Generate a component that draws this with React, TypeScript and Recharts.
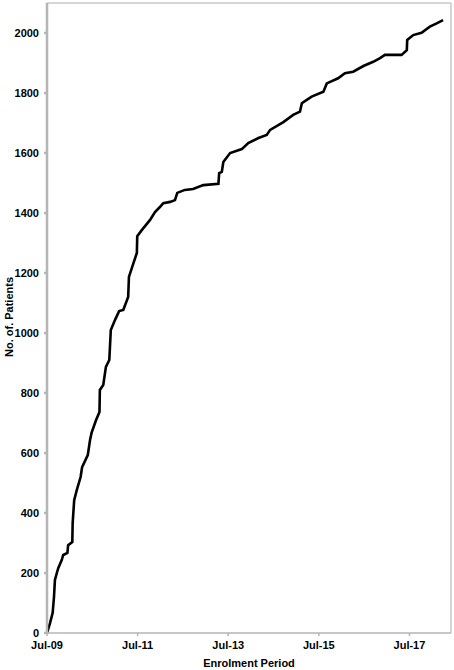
import { LineChart, Line, XAxis, YAxis, ReferenceLine } from 'recharts';

// months since Jul-2009
const months = [
  0, 0.8, 1.5, 1.85, 2.1, 2.6, 3.0, 3.9, 4.3, 5.4, 5.6, 6.7, 6.8, 7.2, 7.9, 8.9, 9.3, 10.8,
  11.4, 11.8, 13.0, 13.9, 14.0, 14.9, 15.6, 16.5, 16.9, 18.0, 19.1, 20.2, 21.5, 21.7, 22.9,
  23.8, 23.9, 25.1, 27.3, 28.6, 29.9, 30.8, 32.6, 33.9, 34.5, 36.5, 38.7, 41.4, 45.4, 45.6,
  46.3, 46.7, 48.5, 51.6, 53.3, 56.0, 58.2, 59.1, 62.6, 65.2, 67.0, 67.5, 68.8, 70.1, 73.2,
  74.1, 77.1, 78.9, 81.1, 83.8, 86.4, 88.2, 89.5, 93.9, 95.3, 95.4, 97.0, 99.2, 101.4, 103.2,
  104.9,
];

const patients = [
  0, 33, 67, 120, 177, 200, 217, 243, 260, 267, 293, 303, 367, 443, 477, 520, 553, 593,
  643, 667, 710, 737, 810, 827, 887, 910, 1010, 1043, 1073, 1077, 1120, 1187, 1233,
  1267, 1323, 1343, 1377, 1403, 1420, 1433, 1437, 1443, 1467, 1477, 1480, 1493, 1497, 1533,
  1537, 1570, 1600, 1613, 1633, 1650, 1660, 1677, 1703, 1727, 1738, 1766, 1777, 1788, 1804,
  1832, 1849, 1866, 1871, 1890, 1904, 1916, 1927, 1927, 1943, 1977, 1993, 2001, 2021, 2032,
  2043,
];

const xTicks = [0, 24, 48, 72, 96];
const xTickLabels = ['Jul-09', 'Jul-11', 'Jul-13', 'Jul-15', 'Jul-17'];
const yTicks = [0, 200, 400, 600, 800, 1000, 1200, 1400, 1600, 1800, 2000];

const data = months.map((m, i) => ({ m, v: patients[i] }));

const font = '"Liberation Sans", Arial, sans-serif';
const tickStyle = { fontFamily: font, fontSize: 11, fontWeight: 700, fill: '#000' };

const YLabel = () => (
  <text
    x={13}
    y={317}
    transform="rotate(-90 13 317)"
    textAnchor="middle"
    fontFamily={font}
    fontSize={11}
    fontWeight={700}
    fill="#000"
  >
    No. of. Patients
  </text>
);

export default function App() {
  return (
    <div style={{ position: 'absolute', left: 0, top: 0, width: 454, height: 670, background: '#fff' }}>
      <LineChart width={454} height={670} data={data} margin={{ top: 3, right: 3, left: 0, bottom: 0 }}>
        <XAxis
          dataKey="m"
          type="number"
          domain={[0, 107]}
          ticks={xTicks}
          tickFormatter={(v) => xTickLabels[xTicks.indexOf(v)]}
          tick={tickStyle}
          tickSize={3}
          tickMargin={5}
          stroke="#b5b5b5"
          strokeWidth={1.5}
          height={37}
          label={{
            value: 'Enrolment Period',
            position: 'insideBottom',
            offset: 3,
            style: { fontFamily: font, fontSize: 11, fontWeight: 700, fill: '#000' },
          }}
        />
        <YAxis
          type="number"
          domain={[0, 2100]}
          ticks={yTicks}
          tick={tickStyle}
          tickSize={3}
          tickMargin={5}
          stroke="#b5b5b5"
          strokeWidth={2.5}
          width={47}
          label={<YLabel />}
        />
        <ReferenceLine y={2100} stroke="#c8c8c8" strokeWidth={1.5} />
        <ReferenceLine x={107} stroke="#c8c8c8" strokeWidth={1.5} />
        <Line
          type="linear"
          dataKey="v"
          stroke="#000"
          strokeWidth={2.6}
          dot={false}
          isAnimationActive={false}
        />
      </LineChart>
    </div>
  );
}
